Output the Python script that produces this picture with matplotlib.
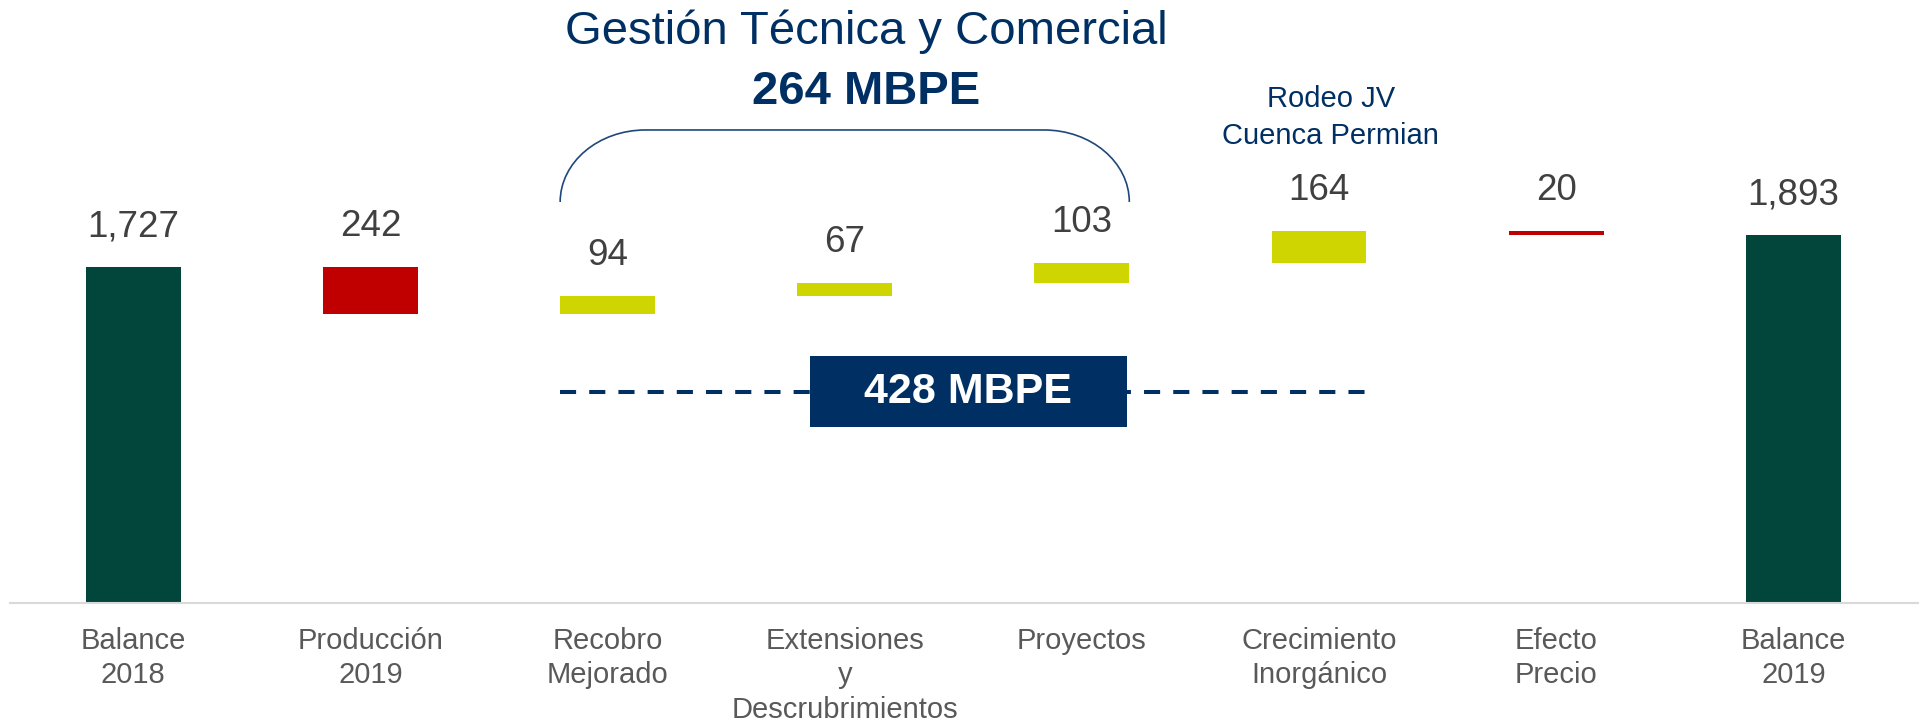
import numpy as np
import matplotlib.pyplot as plt
from matplotlib.patches import Rectangle, PathPatch
from matplotlib.path import Path

plt.rcParams['font.family'] = ['Liberation Sans', 'DejaVu Sans']

# data
categories = ['Balance\n2018', 'Producción\n2019', 'Recobro\nMejorado',
              'Extensiones\ny\nDescrubrimientos', 'Proyectos',
              'Crecimiento\nInorgánico', 'Efecto\nPrecio', 'Balance\n2019']
changes = [1727, -242, 94, 67, 103, 164, -20, 1893]
is_total = [True, False, False, False, False, False, False, True]
value_labels = ['1,727', '242', '94', '67', '103', '164', '20', '1,893']

group_title = 'Gestión Técnica y Comercial'
group_total = '264 MBPE'
organic_total = '428 MBPE'
rodeo_note = 'Rodeo JV\nCuenca Permian'

GREEN = '#02453A'
RED = '#C00000'
LIME = '#CFD500'
NAVY = '#003063'
TEXT = '#404040'
TICK = '#595959'

# waterfall geometry
x = np.arange(len(categories))
bottoms, heights, colors = [], [], []
level = 0
for v, tot in zip(changes, is_total):
    if tot:
        bottoms.append(0)
        heights.append(v)
        colors.append(GREEN)
        level = v
    else:
        new = level + v
        bottoms.append(min(level, new))
        heights.append(abs(v))
        colors.append(LIME if v > 0 else RED)
        level = new
bottoms = np.array(bottoms)
heights = np.array(heights)
tops = bottoms + heights

fig = plt.figure(figsize=(19.19, 7.21), dpi=100)
ax = fig.add_axes([10 / 1919, 118 / 721, 1909 / 1919, 603 / 721])
ax.set_xlim(-0.52, 7.53)
ax.set_ylim(0, 3099)

bw = 0.4
ax.bar(x, heights, bottom=bottoms, width=bw, color=colors, zorder=2)

for xi, top, lab in zip(x, tops, value_labels):
    ax.annotate(lab, (xi, top), xytext=(0, 22), textcoords='offset points',
                ha='center', va='baseline', fontsize=26.5, color=TEXT)

# bracket over the technical/commercial group
x0, x1 = x[2] - bw / 2, x[4] + bw / 2
yb, yt = 2061, 2431
rx, ry = 0.36, yt - yb
k = 0.5523
verts = [(x0, yb), (x0, yb + k * ry), (x0 + rx - k * rx, yt), (x0 + rx, yt),
         (x1 - rx, yt),
         (x1 - rx + k * rx, yt), (x1, yb + k * ry), (x1, yb)]
codes = [Path.MOVETO, Path.CURVE4, Path.CURVE4, Path.CURVE4,
         Path.LINETO,
         Path.CURVE4, Path.CURVE4, Path.CURVE4]
ax.add_patch(PathPatch(Path(verts, codes), fill=False, edgecolor='#1F477A', lw=1.2))

ax.text(3.09, 2873, group_title, ha='center', va='baseline', fontsize=34, color=NAVY)
ax.text(3.09, 2565, group_total, ha='center', va='baseline', fontsize=34,
        color=NAVY, fontweight='bold')
ax.text(5.05, 2359, rodeo_note, ha='center', va='baseline', fontsize=21,
        color=NAVY, linespacing=1.42)

# organic total: dashed line with box
ax.plot([x[2] - bw / 2, x[5] + bw / 2], [1084, 1084], color=NAVY, lw=2.9,
        ls=(0, (4, 3.25)), zorder=2)
ax.add_patch(Rectangle((2.855, 904), 1.335, 365, facecolor=NAVY, zorder=3))
ax.text(3.52, 1086, organic_total, ha='center', va='center', fontsize=31,
        color='white', fontweight='bold', zorder=4)

ax.set_xticks(x, categories, fontsize=21, color=TICK, linespacing=1.3)
ax.tick_params(axis='x', length=0, pad=17)
ax.set_yticks([])
for s in ['top', 'left', 'right']:
    ax.spines[s].set_visible(False)
ax.spines['bottom'].set_color('#D9D9D9')
ax.spines['bottom'].set_linewidth(1.5)

fig.savefig('out.png', dpi=100)
